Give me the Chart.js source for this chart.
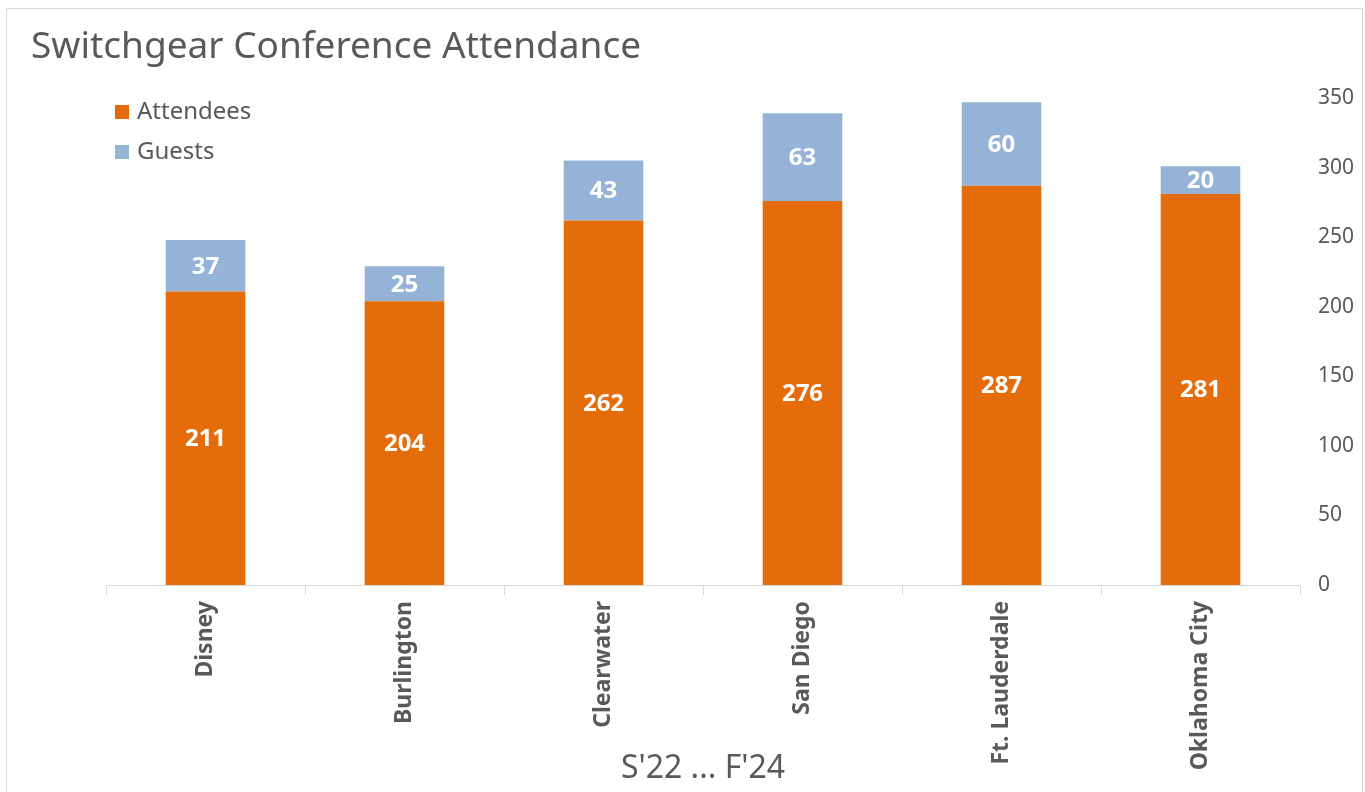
<!DOCTYPE html>
<html>
<head>
<meta charset="utf-8">
<title>Switchgear Conference Attendance</title>
<script src="https://cdn.jsdelivr.net/npm/chart.js@4.4.1/dist/chart.umd.min.js"></script>
<style>
  html, body { margin: 0; padding: 0; background: #fff; overflow: hidden; }
  #wrap { width: 1365px; height: 792px; position: relative; }
</style>
</head>
<body>
<div id="wrap"><canvas id="chart" width="1365" height="792"></canvas></div>
<script>
const chartTitle = 'Switchgear Conference Attendance';
const axisTitle = "S'22 ... F'24";
const categories = ['Disney', 'Burlington', 'Clearwater', 'San Diego', 'Ft. Lauderdale', 'Oklahoma City'];
const attendees = [211, 204, 262, 276, 287, 281];
const guests = [37, 25, 43, 63, 60, 20];
const yMax = 350;
const yStep = 50;

const FONT = "'Noto Sans', 'Open Sans', sans-serif";
const TEXT = '#595959';
const ORANGE = '#E46C0A';
const BLUE = '#95B3D7';

// frame, title and legend drawn on the canvas
const decorations = {
  id: 'decorations',
  beforeDraw(chart) {
    const ctx = chart.ctx;
    ctx.save();
    ctx.strokeStyle = '#d9d9d9';
    ctx.lineWidth = 1;
    ctx.strokeRect(6.5, 8.5, 1356, 800);
    ctx.fillStyle = TEXT;
    ctx.font = '37px ' + FONT;
    ctx.textBaseline = 'middle';
    ctx.fillText(chartTitle, 31, 47);
    // legend
    ctx.font = '24px ' + FONT;
    chart.data.datasets.forEach((ds, i) => {
      const y = 112 + i * 40;
      ctx.fillStyle = ds.backgroundColor;
      ctx.fillRect(115, y - 7, 14, 14);
      ctx.fillStyle = TEXT;
      ctx.fillText(ds.label, 137, y);
    });
    ctx.restore();
  },
  afterDatasetsDraw(chart) {
    const ctx = chart.ctx;
    ctx.save();
    ctx.fillStyle = '#fff';
    ctx.font = 'bold 24px ' + FONT;
    ctx.textAlign = 'center';
    ctx.textBaseline = 'middle';
    chart.data.datasets.forEach((ds, i) => {
      chart.getDatasetMeta(i).data.forEach((bar, j) => {
        const p = bar.getProps(['x', 'y', 'base'], true);
        ctx.fillText(String(ds.data[j]), p.x, (p.y + p.base) / 2 + 1);
      });
    });
    ctx.restore();
  }
};

new Chart(document.getElementById('chart'), {
  type: 'bar',
  data: {
    labels: categories,
    datasets: [
      { label: 'Attendees', data: attendees, backgroundColor: ORANGE },
      { label: 'Guests', data: guests, backgroundColor: BLUE }
    ]
  },
  options: {
    responsive: false,
    animation: false,
    layout: { padding: { left: 106, right: 0, top: 98, bottom: 0 } },
    datasets: { bar: { barPercentage: 0.4, categoryPercentage: 1 } },
    plugins: { legend: { display: false }, title: { display: false }, tooltip: { enabled: false } },
    scales: {
      x: {
        stacked: true,
        grid: { display: true, offset: true, drawOnChartArea: false, drawTicks: true, tickLength: 10, color: '#d9d9d9' },
        border: { display: true, color: '#d9d9d9', width: 1 },
        ticks: { color: TEXT, font: { family: FONT, size: 23, weight: 'bold' }, minRotation: 90, maxRotation: 90, padding: 6, autoSkip: false },
        title: { display: true, text: axisTitle, color: TEXT, font: { family: FONT, size: 32 }, padding: { top: 0, bottom: 4 } },
        afterFit: s => { s.height = 207; }
      },
      y: {
        stacked: true,
        position: 'right',
        min: 0,
        max: yMax,
        grid: { display: false },
        border: { display: false },
        ticks: { stepSize: yStep, color: TEXT, font: { family: FONT, size: 21 }, padding: 10 },
        afterFit: s => { s.width = 65; }
      }
    }
  },
  plugins: [decorations]
});
</script>
</body>
</html>
